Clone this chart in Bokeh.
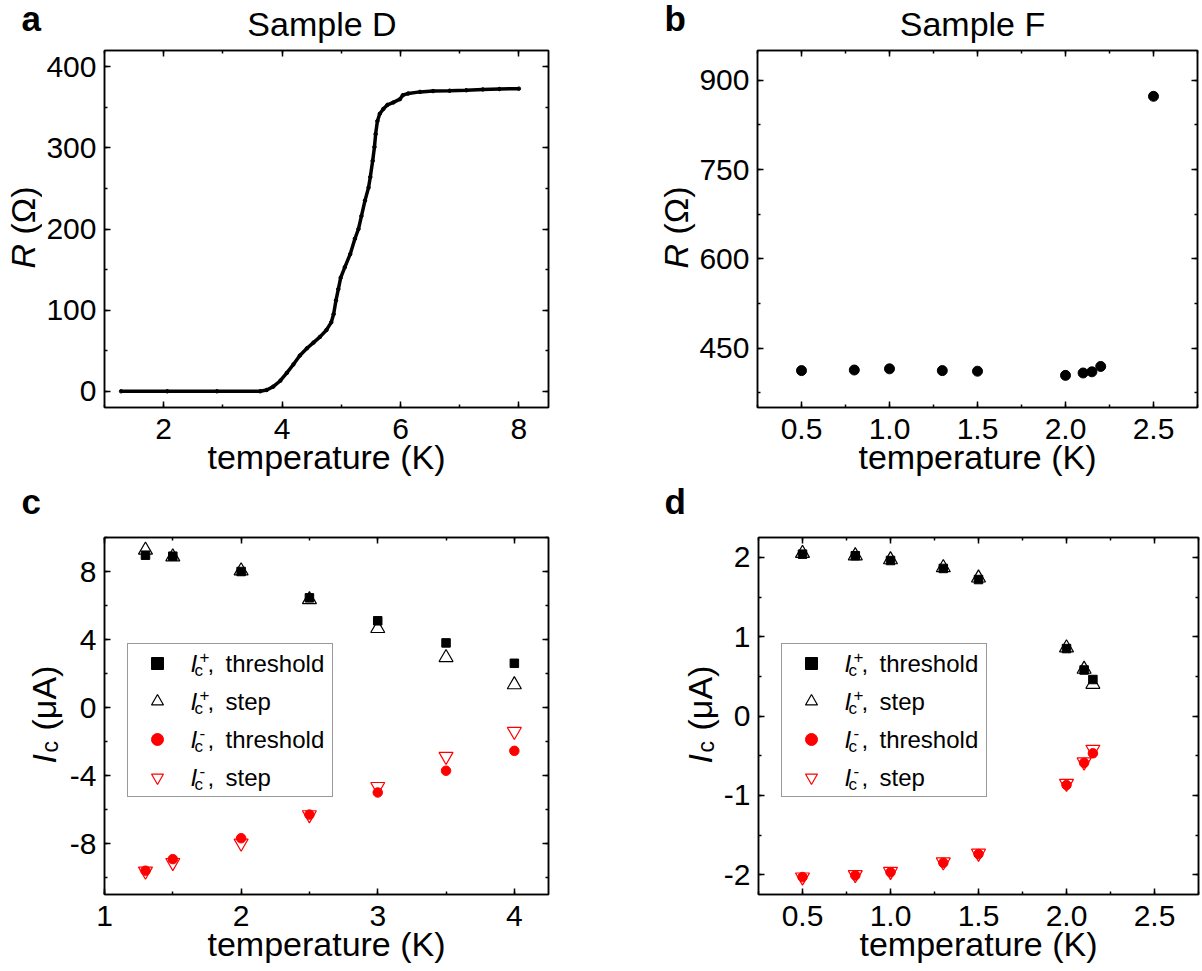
import math
from bokeh.plotting import figure
from bokeh.models import (LinearAxis, SingleIntervalTicker, Range1d, Label, Legend,
                          LegendItem, NumeralTickFormatter)
from bokeh.layouts import column, row
from bokeh.embed import file_html
from bokeh.resources import INLINE

FONT = "Liberation Sans"
RED = "#FF0000"

# ---------------- data ----------------
# panel a: Sample D, R vs T
a_temp = [1.28, 2.06, 2.90, 3.63, 3.74, 3.85, 3.97, 4.08, 4.19, 4.30, 4.42, 4.53, 4.64,
          4.75, 4.83, 4.87, 4.91, 4.95, 4.99, 5.06, 5.15, 5.23, 5.29, 5.34, 5.40, 5.46,
          5.49, 5.53, 5.56, 5.58, 5.61, 5.65, 5.71, 5.78, 5.88, 5.99, 6.04, 6.13, 6.33,
          6.55, 6.83, 7.11, 7.39, 7.67, 8.00]
a_res = [0, 0, 0, 0, 1.6, 5.7, 13, 22.6, 33, 44, 53, 60, 67,
         75.6, 85, 95, 112, 126, 140, 153, 169, 188, 200, 216, 235, 251,
         264, 284, 301, 317, 333, 342, 348, 353, 356, 360, 365, 367, 369,
         370, 370.4, 371, 372, 372.5, 373]

# panel b: Sample F, R vs T
b_temp = [0.5, 0.8, 1.0, 1.3, 1.5, 2.0, 2.1, 2.15, 2.2, 2.5]
b_res = [412, 413, 415, 412, 411, 404, 408, 410, 419, 873]

# panel c: Sample D critical currents
c_temp = [1.3, 1.5, 2.0, 2.5, 3.0, 3.5, 4.0]
c_pos_thr = [8.96, 8.9, 8.0, 6.45, 5.1, 3.8, 2.6]
c_pos_step = [9.26, 8.86, 8.04, 6.35, 4.65, 2.94, 1.34]
c_neg_thr = [-9.6, -8.92, -7.69, -6.3, -5.0, -3.72, -2.55]
c_neg_step = [-9.63, -9.12, -7.98, -6.31, -4.65, -2.88, -1.41]

# panel d: Sample F critical currents
d_temp = [0.5, 0.8, 1.0, 1.3, 1.5, 2.0, 2.1, 2.15]
d_pos_thr = [2.04, 2.02, 1.96, 1.86, 1.72, 0.85, 0.58, 0.46]
d_pos_step = [2.05, 2.02, 1.97, 1.87, 1.74, 0.86, 0.59, 0.40]
d_neg_thr = [-2.03, -2.01, -1.97, -1.85, -1.74, -0.87, -0.59, -0.47]
d_neg_step = [-2.03, -2.00, -1.96, -1.84, -1.73, -0.85, -0.58, -0.42]

legend_signs = ["+", "+", "-", "-"]
legend_words = ["threshold", "step", "threshold", "step"]

TICK_PX = "30px"
LABEL_SZ = 34
LETTER_SZ = 35
LEG_SZ = 24
SUB_SZ = 17
FRAME_H = 357
BASE_SHIFT = 0.4   # Label "alphabetic" anchor sits ~0.4 em above the drawn baseline


def px(n):
    return "%dpx" % n


def style_axis(ax, show):
    ax.axis_line_color = "black"
    ax.axis_line_width = 1.5
    ax.major_tick_in = 6
    ax.major_tick_out = 0
    ax.minor_tick_in = 3
    ax.minor_tick_out = 0
    ax.major_tick_line_color = "black"
    ax.minor_tick_line_color = "black"
    ax.major_tick_line_width = 1.5
    ax.minor_tick_line_width = 1.5
    if show:
        ax.major_label_text_font = FONT
        ax.major_label_text_font_size = TICK_PX
        ax.major_label_text_color = "black"
    else:
        ax.major_label_text_font_size = "1px"
        ax.major_label_text_color = None
        ax.major_label_standoff = 0


def make_fig(xr, yr, xint, yint, xfmt, fw, bl, br, bt, bb):
    p = figure(frame_width=fw, frame_height=FRAME_H,
               x_range=Range1d(*xr), y_range=Range1d(*yr),
               x_axis_type=None, y_axis_type=None,
               output_backend="svg", toolbar_location=None,
               min_border_left=bl, min_border_right=br,
               min_border_top=bt, min_border_bottom=bb,
               background_fill_color="white", border_fill_color="white")
    p.outline_line_color = "black"
    p.outline_line_width = 1.5
    for loc in ["below", "above", "left", "right"]:
        if loc in ("below", "above"):
            ax = LinearAxis(ticker=SingleIntervalTicker(interval=xint, num_minor_ticks=2),
                            formatter=NumeralTickFormatter(format=xfmt))
        else:
            ax = LinearAxis(ticker=SingleIntervalTicker(interval=yint, num_minor_ticks=2),
                            formatter=NumeralTickFormatter(format="0"))
        style_axis(ax, loc in ("below", "left"))
        if loc == "below":
            ax.major_label_standoff = 11
            ax.axis_label = "temperature (K)"
            ax.axis_label_text_font = FONT
            ax.axis_label_text_font_size = px(LABEL_SZ)
            ax.axis_label_text_font_style = "normal"
            ax.axis_label_text_color = "black"
            ax.axis_label_standoff = -4
        elif loc == "left":
            ax.major_label_standoff = 8
        p.add_layout(ax, loc)
    return p


def strip(w, h):
    s = figure(width=w, height=h, x_range=Range1d(0, 1), y_range=Range1d(0, 1),
               x_axis_type=None, y_axis_type=None, output_backend="svg",
               toolbar_location=None, min_border=0,
               background_fill_color="white", border_fill_color="white")
    s.outline_line_color = None
    return s


def txt(p, x, y, s, size, style="normal", align="left"):
    # y = wanted baseline height (screen px above frame bottom)
    p.add_layout(Label(x=x, y=y + BASE_SHIFT * size, x_units="screen", y_units="screen",
                       text=s, text_font=FONT, text_font_size=px(size),
                       text_font_style=style, text_color="black", text_align=align,
                       text_baseline="alphabetic"))


def vtxt(p, x, y, s, size, style="normal"):
    # rotated text reading upwards, starting at y, centred on x
    p.add_layout(Label(x=x - 5, y=y, x_units="screen", y_units="screen",
                       text=s, text_font=FONT, text_font_size=px(size),
                       text_font_style=style, text_color="black", angle=math.pi / 2,
                       text_align="left", text_baseline="middle"))


def rlabel(p, xc, y0):
    vtxt(p, xc, y0, "R", LABEL_SZ, "italic")
    vtxt(p, xc, y0 + 34, "(\u03a9)", LABEL_SZ)


def ilabel(p, xc, y0):
    vtxt(p, xc, y0, "I", LABEL_SZ, "italic")
    vtxt(p, xc + 6, y0 + 11, "c", 23)
    vtxt(p, xc, y0 + 33, "(\u03bcA)", LABEL_SZ)


def legend_block(p, renderers):
    items = [LegendItem(label=" ", renderers=[r]) for r in renderers]
    lg = Legend(items=items, location=(23, 97), padding=4, spacing=8,
                glyph_height=30, glyph_width=50, label_height=30, label_width=141,
                label_standoff=5, border_line_color="#333333", border_line_width=1.2,
                background_fill_alpha=0.0,
                label_text_font_size="10px", margin=0)
    p.add_layout(lg, "center")
    top = 97 + 152
    for i, (sg, w) in enumerate(zip(legend_signs, legend_words)):
        yc = top - 19 - 38 * i
        txt(p, 86, yc - 9, "I", LEG_SZ, "italic")
        txt(p, 90, yc - 13, "c", SUB_SZ)
        txt(p, 95, yc + 1, sg, SUB_SZ)
        txt(p, 103, yc - 9, ",", LEG_SZ)
        txt(p, 121, yc - 9, w, LEG_SZ)


def scatter_set(p, t, pt, ps, nt, ns):
    r1 = p.scatter(t, pt, marker="square", size=8.5, color="black")
    r2 = p.scatter(t, ps, marker="triangle", size=14, fill_color=None,
                   line_color="black", line_width=1.2)
    r3 = p.scatter(t, nt, marker="circle", size=9.5, color=RED)
    r4 = p.scatter(t, ns, marker="inverted_triangle", size=14, fill_color=None,
                   line_color=RED, line_width=1.2)
    return [r1, r2, r3, r4]


TOP_H = 47      # strip above panels a/b
MID_H = 51      # strip above panels c/d
BOT = 76        # bottom border of every panel

# ---------------- panel a ----------------
pa = make_fig((1.0, 8.5), (-20, 420), 2, 100, "0", 444, 62, 92, 3, BOT)
pa.line(a_temp, a_res, line_color="black", line_width=3.5)
pa.scatter(a_temp, a_res, size=3.5, color="black")
ta = strip(640, TOP_H)
txt(ta, 321.5, TOP_H - 37, "Sample D", LABEL_SZ, align="center")
txt(ta, 21, TOP_H - 32, "a", LETTER_SZ, "bold")
la = strip(42, 3 + FRAME_H + BOT)
rlabel(la, 27, 139)

# ---------------- panel b ----------------
pb = make_fig((0.25, 2.75), (350, 950), 0.5, 150, "0.0", 440, 61, 3, 3, BOT)
pb.scatter(b_temp, b_res, size=10, color="black", marker="circle")
tb = strip(560, TOP_H)
txt(tb, 332, TOP_H - 37, "Sample F", LABEL_SZ, align="center")
txt(tb, 24, TOP_H - 32, "b", LETTER_SZ, "bold")
lb = strip(56, 3 + FRAME_H + BOT)
rlabel(lb, 40, 139)

# ---------------- panel c ----------------
pc = make_fig((1.0, 4.25), (-11, 10), 1, 4, "0", 444, 40, 92, 3, BOT)
legend_block(pc, scatter_set(pc, c_temp, c_pos_thr, c_pos_step, c_neg_thr, c_neg_step))
tc = strip(640, MID_H)
txt(tc, 21, 19, "c", LETTER_SZ, "bold")
lc = strip(64, 3 + FRAME_H + BOT)
ilabel(lc, 48, 131)

# ---------------- panel d ----------------
pd_ = make_fig((0.25, 2.75), (-2.25, 2.25), 0.5, 1, "0.0", 440, 37, 3, 3, BOT)
legend_block(pd_, scatter_set(pd_, d_temp, d_pos_thr, d_pos_step, d_neg_thr, d_neg_step))
td = strip(560, MID_H)
txt(td, 24, 19, "d", LETTER_SZ, "bold")
ld = strip(80, 3 + FRAME_H + BOT)
ilabel(ld, 64.5, 131)

colA = column(ta, row(la, pa), tc, row(lc, pc))
colB = column(tb, row(lb, pb), td, row(ld, pd_))
layout = row(colA, colB)
open("out.html", "w").write(file_html(layout, INLINE))
